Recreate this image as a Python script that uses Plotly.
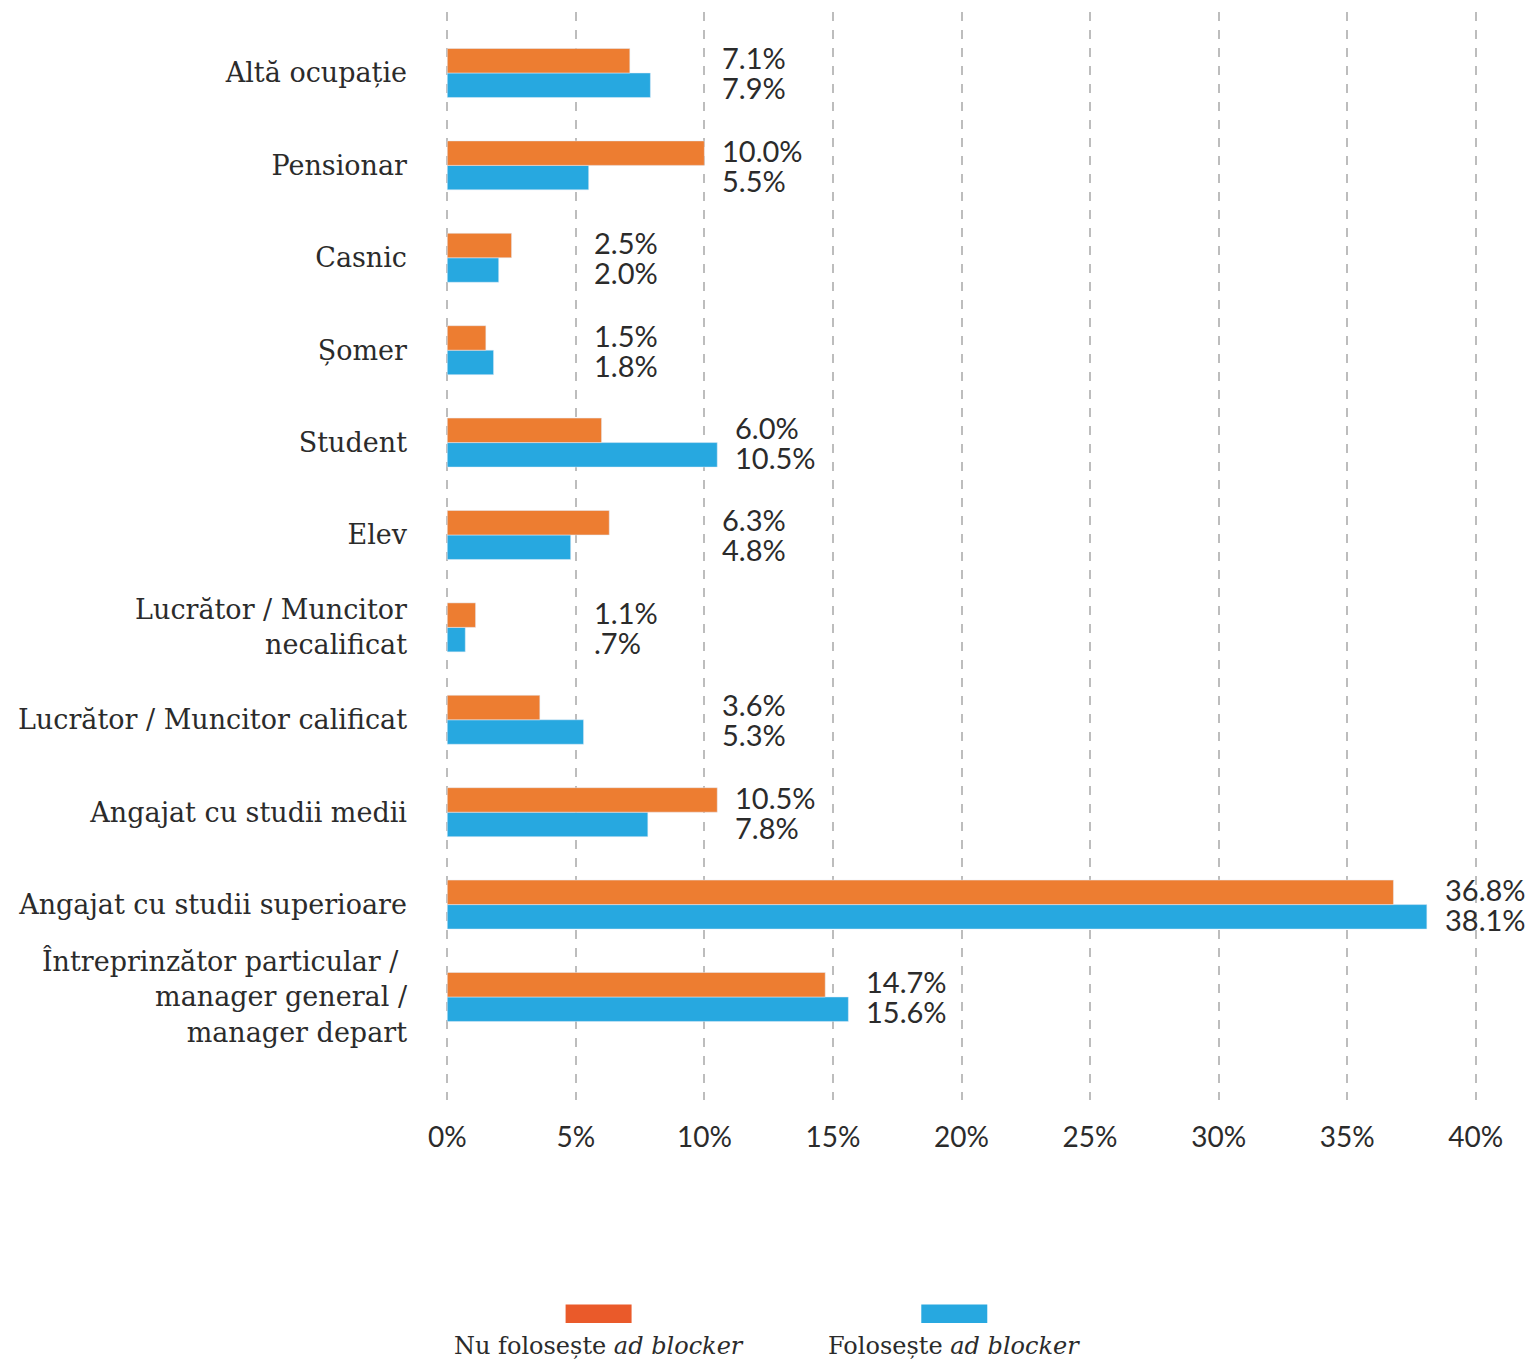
import math
import plotly.graph_objects as go

categories = [
    "Altă ocupație",
    "Pensionar",
    "Casnic",
    "Șomer",
    "Student",
    "Elev",
    "Lucrător / Muncitor<br>necalificat",
    "Lucrător / Muncitor calificat",
    "Angajat cu studii medii",
    "Angajat cu studii superioare",
    "Întreprinzător particular / <br>manager general /<br>manager depart",
]
nu_foloseste = [7.1, 10.0, 2.5, 1.5, 6.0, 6.3, 1.1, 3.6, 10.5, 36.8, 14.7]
foloseste = [7.9, 5.5, 2.0, 1.8, 10.5, 4.8, 0.7, 5.3, 7.8, 38.1, 15.6]
x_ticks = [0, 5, 10, 15, 20, 25, 30, 35, 40]
x_ticktext = ["0%", "5%", "10%", "15%", "20%", "25%", "30%", "35%", "40%"]
series_names = ["Nu folosește <i>ad blocker</i>", "Folosește <i>ad blocker</i>"]

ORANGE = "#ED7D31"
ORANGE_LEG = "#EA5A2A"
BLUE = "#27A8E0"
TEXT = "#2B2B2B"
SERIF = "DejaVu Serif"
SANS = "Lato"

# reverse so first category is at the top
cats_r = categories[::-1]
nu_r = nu_foloseste[::-1]
fo_r = foloseste[::-1]


def fmt(v):
    s = f"{v:.1f}%"
    return s[1:] if s.startswith("0.") else s


fig = go.Figure()
# blue first -> lower position in each group; orange on top
fig.add_trace(go.Bar(y=cats_r, x=fo_r, orientation="h", marker_color=BLUE,
                     name="Folosește ad blocker", showlegend=False))
fig.add_trace(go.Bar(y=cats_r, x=nu_r, orientation="h", marker_color=ORANGE,
                     name="Nu folosește ad blocker", showlegend=False))

# value labels in a column per category
for c, o, b in zip(cats_r, nu_r, fo_r):
    m = max(o, b)
    anchor = max(m, min(10, 5 * math.ceil(m / 5)))
    for val, ys in ((o, 15), (b, -15)):
        fig.add_annotation(x=anchor, y=c, text=fmt(val), showarrow=False,
                           xanchor="left", yanchor="middle", xshift=17, yshift=ys,
                           borderpad=0,
                           font=dict(family=SANS, size=29, color=TEXT))

# custom legend (swatch above text)
for cx, col, name in ((0.148, ORANGE_LEG, series_names[0]), (0.493, BLUE, series_names[1])):
    fig.add_shape(type="rect", xref="paper", yref="paper",
                  x0=cx - 0.032, x1=cx + 0.032, y0=-0.205, y1=-0.188,
                  fillcolor=col, line_width=0)
    fig.add_annotation(xref="paper", yref="paper", x=cx, y=-0.226, text=name,
                       showarrow=False, xanchor="center", yanchor="middle",
                       borderpad=0,
                       font=dict(family=SERIF, size=24, color=TEXT))

fig.update_layout(
    width=1528, height=1359,
    margin=dict(l=446, r=51, t=12, b=259),
    barmode="group", bargap=0.47, bargroupgap=0,
    plot_bgcolor="white", paper_bgcolor="white",
    xaxis=dict(range=[-0.05, 40.05], tickvals=x_ticks, ticktext=x_ticktext,
               showgrid=True, gridcolor="#BDBDBD", gridwidth=1.5, griddash="dash",
               zeroline=False, showline=False, ticks="",
               ticklabelstandoff=18,
               tickfont=dict(family=SANS, size=28, color=TEXT)),
    yaxis=dict(range=[-1.115, 10.66], showgrid=False, zeroline=False,
               showline=False, ticks="", ticklabelstandoff=38,
               tickfont=dict(family=SERIF, size=27, color=TEXT)),
)

fig.write_html(
    "out.html",
    config={"displayModeBar": False},
    post_script="document.body.style.margin='0px';document.body.style.overflow='hidden';",
)
